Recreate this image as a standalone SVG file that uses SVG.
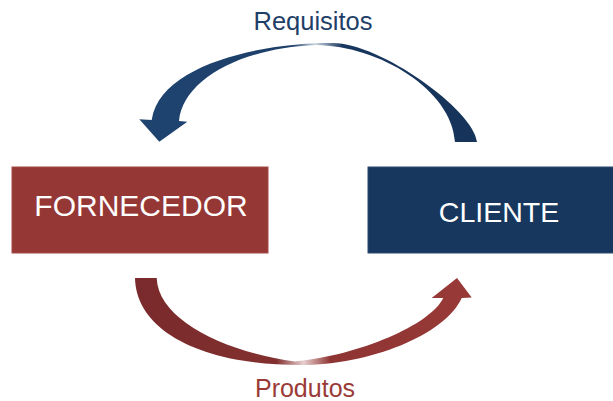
<svg xmlns="http://www.w3.org/2000/svg" width="613" height="401" viewBox="0 0 613 401">
  <style>
    .lbl { font-family: "Liberation Sans", Arial, sans-serif; }
    .nodeText { fill: #ffffff; text-anchor: middle; }
  </style>
  <defs>
    <linearGradient id="gBlue" gradientUnits="userSpaceOnUse" x1="139" y1="0" x2="478" y2="0">
      <stop offset="0" stop-color="#1f4470"/>
      <stop offset="0.45" stop-color="#1d3f69"/>
      <stop offset="0.52" stop-color="#c9d3df"/>
      <stop offset="0.6" stop-color="#18375e"/>
      <stop offset="1" stop-color="#16335a"/>
    </linearGradient>
    <linearGradient id="gRed" gradientUnits="userSpaceOnUse" x1="135" y1="0" x2="472" y2="0">
      <stop offset="0" stop-color="#7a2a2c"/>
      <stop offset="0.42" stop-color="#82302f"/>
      <stop offset="0.5" stop-color="#e8cfcf"/>
      <stop offset="0.58" stop-color="#8e3433"/>
      <stop offset="1" stop-color="#983a37"/>
    </linearGradient>
  </defs>

  <g id="connectors">
    <g id="requisitos-arrow">
      <path fill="url(#gBlue)" d="M 477,142 C 474,110 380,43 333,43 C 270,42 160,62 151.7,120 L 139.3,119.3 L 159.3,141.7 L 187.3,121.7 L 179,121 C 183,80 240,48 316,45 C 380,46 452,90 455,142 Z"/>
      <text class="lbl" x="313" y="30" font-size="25.5" fill="#1f3f68" text-anchor="middle">Requisitos</text>
    </g>
    <g id="produtos-arrow">
      <path fill="url(#gRed)" d="M 135,278 C 136,330 200,365 300,365 C 370,365 445,335 461.7,298 L 471.7,297.5 L 457,278 L 431.7,298 L 443.3,298 C 430,325 360,355 295,361.5 C 225,352 158,320 156.7,278 Z"/>
      <text class="lbl" x="305" y="397" font-size="25" fill="#993a37" text-anchor="middle">Produtos</text>
    </g>
  </g>

  <g id="fornecedor">
    <rect x="12" y="167" width="256" height="86" fill="#953735" stroke="#a44a48" stroke-width="1"/>
    <text class="lbl nodeText" x="141" y="216" font-size="30">FORNECEDOR</text>
  </g>

  <g id="cliente">
    <rect x="368" y="167" width="250" height="86" fill="#17375e" stroke="#2a4a72" stroke-width="1"/>
    <text class="lbl nodeText" x="499" y="221.5" font-size="28.5">CLIENTE</text>
  </g>
</svg>
